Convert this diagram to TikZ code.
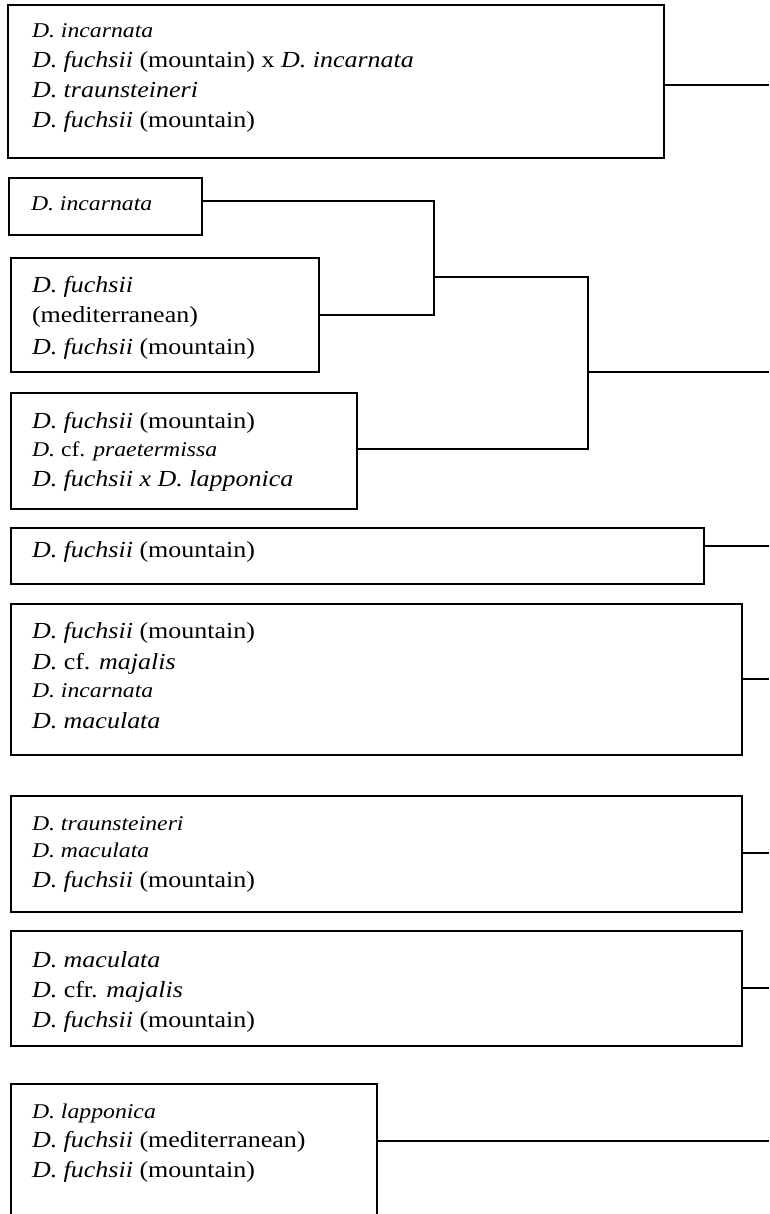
\documentclass[tikz,border=0pt]{standalone}
\usepackage{fontspec}
\setmainfont{Liberation Serif}[FakeStretch=1.13]
\newcommand\bigtxt{\fontsize{23}{30}\selectfont}
\newcommand\smalltxt{\fontsize{21}{30}\selectfont}
\newcommand\tline[4]{\node[txt,anchor=base west] (#1) at (#2) {#3#4};}
\tikzset{
  box/.style={draw=black, line width=1.6pt, inner sep=0pt, outer sep=0pt, anchor=north west},
  txt/.style={inner sep=0pt, outer sep=0pt},
  link/.style={draw=black, line width=1.4pt}
}
\begin{document}
\begin{tikzpicture}[x=1pt,y=-1pt]
\useasboundingbox (0,0) rectangle (769,1214);
\clip (0,0) rectangle (769,1214);
% boxes
\node[box, minimum width=656pt, minimum height=153pt] (b1) at (8,5) {};
\node[box, minimum width=193pt, minimum height=57pt] (b2) at (9,178) {};
\node[box, minimum width=308pt, minimum height=114pt] (b3) at (11,258) {};
\node[box, minimum width=346pt, minimum height=116pt] (b4) at (11,393) {};
\node[box, minimum width=693pt, minimum height=56pt] (b5) at (11,528) {};
\node[box, minimum width=731pt, minimum height=151pt] (b6) at (11,604) {};
\node[box, minimum width=731pt, minimum height=116pt] (b7) at (11,796) {};
\node[box, minimum width=731pt, minimum height=115pt] (b8) at (11,931) {};
\node[box, minimum width=366pt, minimum height=150pt] (b9) at (11,1084) {};
% texts
\tline{t1a}{32,38}{\smalltxt}{\textit{D. incarnata}}
\tline{t1b}{32,68}{\bigtxt}{\textit{D. fuchsii} (mountain) x \textit{D. incarnata}}
\tline{t1c}{32,98}{\bigtxt}{\textit{D. traunsteineri}}
\tline{t1d}{32,128}{\bigtxt}{\textit{D. fuchsii} (mountain)}
\tline{t2a}{31,211}{\smalltxt}{\textit{D. incarnata}}
\tline{t3a}{32,293}{\bigtxt}{\textit{D. fuchsii}}
\tline{t3b}{32,323}{\bigtxt}{(mediterranean)}
\tline{t3c}{32,354}{\bigtxt}{\textit{D. fuchsii} (mountain)}
\tline{t4a}{32,428}{\bigtxt}{\textit{D. fuchsii} (mountain)}
\tline{t4b}{32,456}{\smalltxt}{\textit{D.} cf. \textit{praetermissa}}
\tline{t4c}{32,486}{\bigtxt}{\textit{D. fuchsii x D. lapponica}}
\tline{t5a}{32,557}{\bigtxt}{\textit{D. fuchsii} (mountain)}
\tline{t6a}{32,638}{\bigtxt}{\textit{D. fuchsii} (mountain)}
\tline{t6b}{32,669}{\bigtxt}{\textit{D.} cf. \textit{majalis}}
\tline{t6c}{32,697}{\smalltxt}{\textit{D. incarnata}}
\tline{t6d}{32,728}{\bigtxt}{\textit{D. maculata}}
\tline{t7a}{32,830}{\smalltxt}{\textit{D. traunsteineri}}
\tline{t7b}{32,857}{\smalltxt}{\textit{D. maculata}}
\tline{t7c}{32,887}{\bigtxt}{\textit{D. fuchsii} (mountain)}
\tline{t8a}{32,967}{\bigtxt}{\textit{D. maculata}}
\tline{t8b}{32,997}{\bigtxt}{\textit{D.} cfr. \textit{majalis}}
\tline{t8c}{32,1027}{\bigtxt}{\textit{D. fuchsii} (mountain)}
\tline{t9a}{32,1118}{\smalltxt}{\textit{D. lapponica}}
\tline{t9b}{32,1147}{\bigtxt}{\textit{D. fuchsii} (mediterranean)}
\tline{t9c}{32,1177}{\bigtxt}{\textit{D. fuchsii} (mountain)}
% connector points
\coordinate (r1) at (769,85);
\coordinate (k1) at (434,201);
\coordinate (k1b) at (434,315);
\coordinate (j1) at (434,277);
\coordinate (k2) at (588,277);
\coordinate (k2b) at (588,449);
\coordinate (j2) at (588,372);
\coordinate (r2) at (769,372);
\coordinate (r5) at (769,546);
\coordinate (r6) at (769,679);
\coordinate (r7) at (769,853);
\coordinate (r8) at (769,988);
\coordinate (r9) at (769,1141);
% connectors
\draw[link] (b1.east |- r1) -- (r1);
\draw[link] (b2.east |- k1) -- (k1) -- (k1b) -- (b3.east |- k1b);
\draw[link] (j1) -- (k2) -- (k2b) -- (b4.east |- k2b);
\draw[link] (j2) -- (r2);
\draw[link] (b5.east |- r5) -- (r5);
\draw[link] (b6.east |- r6) -- (r6);
\draw[link] (b7.east |- r7) -- (r7);
\draw[link] (b8.east |- r8) -- (r8);
\draw[link] (b9.east |- r9) -- (r9);
\end{tikzpicture}
\end{document}
